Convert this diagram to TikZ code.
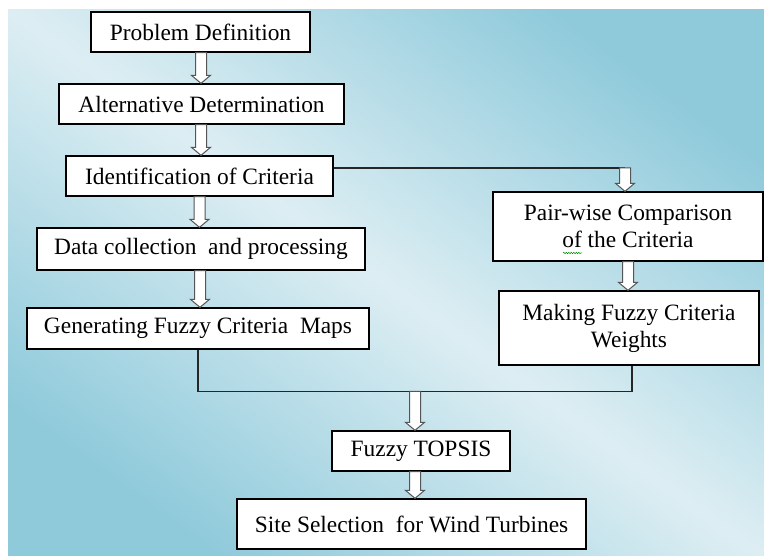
\documentclass[tikz,border=0pt]{standalone}
\usepackage{fontspec}
\setmainfont{Liberation Serif}
\newfontfamily\boxfont{Liberation Serif}
\usetikzlibrary{calc,decorations.pathmorphing}
\definecolor{bgdark}{HTML}{8FCADB}
\definecolor{bglight}{HTML}{DDEEF3}
\definecolor{arrgray}{HTML}{555555}
\tikzset{
  box/.style={draw=black, line width=1.3pt, fill=white, inner sep=0pt, align=center,
    font=\boxfont\fontsize{23.4}{27}\selectfont},
  link/.style={draw=black!85, line width=1.3pt},
  harrow/.style={draw=arrgray, line width=1pt, fill=white, line join=miter},
}
% hollow block arrow from #1 (top) to #2 (tip), vertical
\newcommand\hollowarrow[2]{%
  \path[harrow] let \p1=(#1), \p2=(#2) in
    (\x1-5.5pt,\y1) -- (\x1-5.5pt,\y2+8pt) -- (\x1-9.5pt,\y2+8pt) -- (\x1,\y2)
    -- (\x1+9.5pt,\y2+8pt) -- (\x1+5.5pt,\y2+8pt) -- (\x1+5.5pt,\y1) -- cycle;}
\begin{document}
\begin{tikzpicture}[x=1pt,y=-1pt]
\useasboundingbox (0,0) rectangle (764,556);
\fill[white] (0,0) rectangle (764,556);
\shade[top color=bgdark, bottom color=bgdark, middle color=bglight, shading angle=-36]
  (8,10) rectangle (764,556);

\node[box, minimum width=219pt, minimum height=40pt] (pd) at (200.5,32) {Problem Definition};
\node[box, minimum width=285pt, minimum height=40pt] (ad) at (201.5,104) {Alternative Determination};
\node[box, minimum width=267pt, minimum height=40pt] (ic) at (199.5,176) {Identification of Criteria};
\node[box, minimum width=328pt, minimum height=42pt] (dc) at (201,249) {Data collection\ \ and processing};
\node[box, minimum width=342pt, minimum height=41pt] (gf) at (198,328.5) {Generating Fuzzy Criteria\ \ Maps};
\node[box, minimum width=270pt, minimum height=69pt] (pc) at (628,226.5) {Pair-wise Comparison\\of the Criteria};
\node[box, minimum width=260pt, minimum height=74pt] (mf) at (629,328) {Making Fuzzy Criteria\\Weights};
\node[box, minimum width=178pt, minimum height=40pt] (ft) at (421,451) {Fuzzy TOPSIS};
\node[box, minimum width=349pt, minimum height=50pt] (ss) at (411.5,524) {Site Selection\ \ for Wind Turbines};

% spell-check squiggle under "of"
\draw[green!55!black, line width=0.5pt, decorate, decoration={snake, amplitude=0.7pt, segment length=2.5pt}]
  (563,253) -- (582,253);

% vertical hollow arrows in the left column
\hollowarrow{$(pd.south)+(0.5,0)$}{$(ad.north)+(-0.5,0)$}
\hollowarrow{$(ad.south)+(-0.5,0)$}{$(ic.north)+(0.5,0)$}
\hollowarrow{ic.south}{$(dc.north)+(-1.5,0)$}
\hollowarrow{$(dc.south)+(-1,0)$}{$(gf.north)+(2,0)$}

% branch to pair-wise comparison
\coordinate (bs) at ($(ic.east)+(0,-8)$);
\coordinate (pt) at ($(pc.north)+(-3,0)$);
\coordinate (br) at (bs -| pt);
\draw[link] (bs) -- (br);
\hollowarrow{br}{pt}
\hollowarrow{pc.south}{mf.north}

% merge to fuzzy TOPSIS
\coordinate (jn) at ($(ft.north)+(-6,-39)$);
\draw[link] (gf.south) |- (jn);
\draw[link] ($(mf.south)+(3,0)$) |- (jn);
\hollowarrow{jn}{$(ft.north)+(-6,0)$}
\hollowarrow{$(ft.south)+(-6,0)$}{$(ss.north)+(3.5,0)$}
\end{tikzpicture}
\end{document}
